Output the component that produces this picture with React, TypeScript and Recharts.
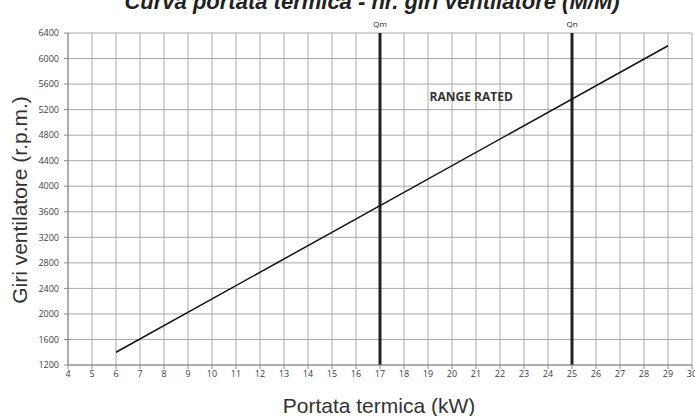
import React from "react";
import {
  LineChart,
  Line,
  XAxis,
  YAxis,
  CartesianGrid,
  ReferenceLine,
  ReferenceDot,
} from "recharts";

const portata = [6, 29];
const giri = [1400, 6200];
const xTicks = [4, 5, 6, 7, 8, 9, 10, 11, 12, 13, 14, 15, 16, 17, 18, 19, 20, 21, 22, 23, 24, 25, 26, 27, 28, 29, 30];
const yTicks = [1200, 1600, 2000, 2400, 2800, 3200, 3600, 4000, 4400, 4800, 5200, 5600, 6000, 6400];
const qLines = [
  { x: 17, label: "Qm" },
  { x: 25, label: "Qn" },
];
const rangeLabel = { x: 20.8, y: 5400, text: "RANGE RATED" };
const title = "Curva portata termica - nr. giri ventilatore (M/M)";
const xLabel = "Portata termica (kW)";
const yLabel = "Giri ventilatore (r.p.m.)";

const data = portata.map((x, i) => ({ x, y: giri[i] }));

const tickStyle = { fontFamily: "Open Sans", fontSize: 9, fill: "#404040" };

export default function App() {
  return (
    <div style={{ position: "absolute", left: 0, top: 0, width: 695, height: 416, background: "#fff", overflow: "hidden" }}>
      <LineChart
        width={695}
        height={416}
        data={data}
        margin={{ top: 33, right: 3, bottom: 31, left: 0 }}
      >
        <CartesianGrid stroke="#a8a8a8" strokeWidth={1} />
        <XAxis
          dataKey="x"
          type="number"
          domain={[4, 30]}
          ticks={xTicks}
          interval={0}
          height={20}
          tick={tickStyle}
          tickLine={{ stroke: "#888" }}
          tickSize={4}
          axisLine={{ stroke: "#888" }}
          allowDataOverflow
        />
        <YAxis
          type="number"
          domain={[1200, 6400]}
          ticks={yTicks}
          interval={0}
          width={68}
          tick={tickStyle}
          tickLine={{ stroke: "#888" }}
          tickSize={4}
          tickMargin={5}
          axisLine={{ stroke: "#888" }}
          allowDataOverflow
        />
        {qLines.map((q) => (
          <ReferenceLine
            key={q.label}
            x={q.x}
            stroke="#222"
            strokeWidth={3}
            label={{
              value: q.label,
              position: "top",
              offset: 6,
              style: { fontFamily: "Open Sans", fontSize: 8, fill: "#222" },
            }}
          />
        ))}
        <ReferenceDot
          x={rangeLabel.x}
          y={rangeLabel.y}
          r={0.01}
          fill="none"
          stroke="none"
          label={{
            value: rangeLabel.text,
            position: "center",
            style: { fontFamily: "Open Sans", fontSize: 12, fontWeight: 700, fill: "#333" },
          }}
        />
        <Line
          dataKey="y"
          stroke="#111"
          strokeWidth={1.5}
          dot={false}
          isAnimationActive={false}
        />
      </LineChart>
      <svg
        width={695}
        height={416}
        style={{ position: "absolute", left: 0, top: 0, pointerEvents: "none" }}
      >
        <text
          x={372}
          y={9}
          textAnchor="middle"
          style={{ fontFamily: "Liberation Sans", fontSize: 22, fontWeight: 700, fontStyle: "italic", fill: "#222" }}
        >
          {title}
        </text>
        <text
          x={379}
          y={413}
          textAnchor="middle"
          style={{ fontFamily: "Liberation Sans", fontSize: 21, fill: "#333" }}
        >
          {xLabel}
        </text>
        <text
          x={0}
          y={0}
          textAnchor="middle"
          transform="translate(27,200) rotate(-90)"
          style={{ fontFamily: "Liberation Sans", fontSize: 21, fill: "#333" }}
        >
          {yLabel}
        </text>
      </svg>
    </div>
  );
}
